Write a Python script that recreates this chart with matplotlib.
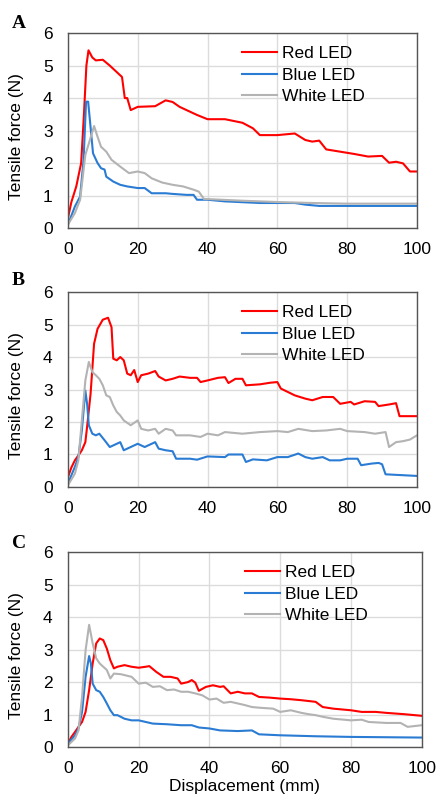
import matplotlib.pyplot as plt

# panel A
red_a_x = [0, 1, 2.4, 3.8, 4.6, 5.3, 5.9, 7, 8, 10, 12, 14, 15.5, 16.3, 17, 18, 19, 20, 25, 28, 30, 32, 35, 37, 40, 45,
           50, 53, 55, 60, 65, 68, 70, 72, 74, 78, 82, 86, 90, 92, 94, 96, 98, 100]
red_a_f = [0.3, 0.8, 1.28, 2.0, 3.5, 5.0, 5.47, 5.25, 5.16, 5.18, 5.0, 4.8, 4.65, 4.0, 4.0, 3.63, 3.68, 3.73, 3.75, 3.93,
           3.88, 3.73, 3.58, 3.48, 3.35, 3.35, 3.24, 3.07, 2.86, 2.86, 2.91, 2.71, 2.66, 2.69, 2.42, 2.35, 2.28, 2.2,
           2.22, 2.01, 2.04, 1.99, 1.74, 1.74]
blue_a_x = [0, 2, 3.5, 4.5, 5.2, 5.8, 6.5, 7.2, 8.5, 9.5, 10.5, 11, 13, 15, 17, 20, 22, 24, 28, 30, 34, 36, 37, 40, 45,
            55, 65, 68, 72, 100]
blue_a_f = [0.1, 0.66, 0.97, 2.1, 3.89, 3.89, 3.1, 2.3, 2.0, 1.84, 1.8, 1.58, 1.43, 1.33, 1.28, 1.23, 1.23, 1.07, 1.07,
            1.05, 1.02, 1.02, 0.87, 0.87, 0.82, 0.77, 0.77, 0.72, 0.68, 0.68]
white_a_x = [0, 2, 3.5, 5, 6, 7.5, 8.5, 9.5, 11, 12.5, 15, 17.5, 20, 22, 24, 27, 30, 33, 36, 37.5, 39, 40, 50, 60, 70,
             80, 100]
white_a_f = [0.1, 0.46, 0.87, 2.25, 2.6, 3.14, 2.81, 2.5, 2.35, 2.1, 1.89, 1.69, 1.74, 1.69, 1.53, 1.4, 1.33, 1.28,
             1.18, 1.12, 0.89, 0.89, 0.84, 0.8, 0.77, 0.75, 0.75]

# panel B
red_b_x = [0, 1, 2, 3, 4, 5, 5.5, 6.5, 7.5, 8.5, 10, 11.5, 12.5, 13, 14, 15, 16, 17, 18, 19, 20, 21, 23, 25, 26, 28,
           30, 32, 35, 37, 38, 40, 43, 45, 46, 48, 50, 51, 55, 58, 60, 61, 65, 68, 70, 73, 76, 78, 81, 82, 85, 88, 89,
           92, 94, 95, 100]
red_b_f = [0.3, 0.6, 0.82, 0.97, 1.13, 1.38, 1.85, 2.87, 4.41, 4.87, 5.15, 5.21, 4.92, 3.95, 3.9, 4.0, 3.9, 3.49, 3.44,
           3.6, 3.23, 3.44, 3.49, 3.57, 3.4, 3.28, 3.33, 3.4, 3.36, 3.36, 3.23, 3.28, 3.36, 3.38, 3.2, 3.33, 3.33,
           3.13, 3.16, 3.21, 3.23, 3.03, 2.82, 2.72, 2.67, 2.77, 2.77, 2.56, 2.62, 2.54, 2.64, 2.62, 2.49, 2.54, 2.58,
           2.18, 2.18]
blue_b_x = [0, 2, 3, 4, 5, 5.5, 6, 7, 8, 9, 10.5, 12, 13, 14, 15, 16, 18, 20, 22, 25, 26, 28, 30, 31, 35, 37, 40, 45,
            46, 50, 51, 53, 57, 60, 63, 66, 68, 70, 73, 75, 78, 80, 83, 84, 87, 89, 90, 91, 100]
blue_b_f = [0.1, 0.62, 0.92, 1.74, 2.97, 2.56, 1.9, 1.64, 1.59, 1.64, 1.44, 1.23, 1.28, 1.33, 1.38, 1.13, 1.23, 1.33,
            1.23, 1.38, 1.18, 1.13, 1.1, 0.87, 0.87, 0.84, 0.94, 0.92, 1.0, 1.0, 0.77, 0.85, 0.82, 0.92, 0.92, 1.03,
            0.92, 0.87, 0.92, 0.82, 0.82, 0.87, 0.87, 0.67, 0.72, 0.74, 0.7, 0.39, 0.34]
white_b_x = [0, 2, 3, 4, 5, 6, 7, 8, 9, 10, 11, 12, 13, 14, 15, 16, 18, 20, 21, 23, 25, 26, 28, 30, 31, 35, 38, 40, 43,
             45, 50, 55, 60, 63, 66, 70, 74, 78, 80, 85, 88, 91, 92, 94, 96, 98, 100]
white_b_f = [0.05, 0.41, 0.82, 2.05, 3.28, 3.85, 3.54, 3.44, 3.33, 3.13, 2.82, 2.77, 2.51, 2.31, 2.2, 2.05, 1.9, 2.05,
             1.79, 1.74, 1.79, 1.64, 1.79, 1.74, 1.59, 1.59, 1.54, 1.64, 1.59, 1.69, 1.64, 1.69, 1.72, 1.69, 1.79, 1.72,
             1.74, 1.79, 1.72, 1.69, 1.64, 1.69, 1.23, 1.38, 1.41, 1.46, 1.59]

# panel C
red_c_x = [0, 1, 2, 3, 4, 5, 6, 7, 8, 9, 10, 11, 12, 13, 14, 16, 18, 20, 22, 23, 25, 27, 29, 31, 32, 34, 35, 36, 37,
           39, 41, 43, 44, 46, 48, 50, 52, 54, 57, 60, 63, 66, 70, 72, 75, 80, 83, 87, 90, 95, 100]
red_c_f = [0.1, 0.31, 0.46, 0.62, 0.77, 1.08, 1.75, 2.57, 3.19, 3.34, 3.29, 3.03, 2.67, 2.42, 2.47, 2.52, 2.47, 2.44,
           2.47, 2.49, 2.31, 2.16, 2.16, 2.11, 1.95, 2.0, 2.06, 1.98, 1.73, 1.85, 1.9, 1.85, 1.87, 1.65, 1.7, 1.65,
           1.65, 1.54, 1.52, 1.49, 1.47, 1.44, 1.39, 1.23, 1.18, 1.13, 1.08, 1.08, 1.05, 1.01, 0.96]
blue_c_x = [0, 2, 3, 4, 5, 6, 6.5, 7, 8, 9, 10, 11, 12, 13, 14, 16, 18, 20, 22, 24, 28, 32, 35, 37, 40, 43, 48, 52, 54,
            60, 70, 80, 100]
blue_c_f = [0.1, 0.36, 0.57, 1.08, 2.16, 2.8, 2.57, 1.95, 1.75, 1.7, 1.54, 1.34, 1.13, 0.98, 0.98, 0.87, 0.82, 0.82,
            0.77, 0.72, 0.7, 0.67, 0.67, 0.6, 0.57, 0.51, 0.49, 0.51, 0.39, 0.36, 0.33, 0.31, 0.29]
white_c_x = [0, 2, 3, 4, 5, 6, 7, 8, 9, 10, 11, 12, 13, 15, 18, 20, 22, 24, 26, 28, 30, 32, 34, 36, 38, 40, 42, 44, 46,
             48, 50, 52, 54, 58, 60, 63, 66, 68, 70, 72, 75, 80, 83, 85, 90, 94, 96, 100]
white_c_f = [0.05, 0.26, 0.51, 1.54, 2.98, 3.76, 3.19, 2.73, 2.57, 2.47, 2.37, 2.11, 2.26, 2.24, 2.16, 1.95, 1.98, 1.85,
             1.87, 1.75, 1.77, 1.7, 1.7, 1.65, 1.59, 1.46, 1.49, 1.36, 1.39, 1.34, 1.29, 1.23, 1.21, 1.18, 1.08, 1.13,
             1.05, 1.01, 0.98, 0.93, 0.87, 0.82, 0.84, 0.77, 0.74, 0.74, 0.62, 0.67]

panels = [
    ("A", [0.155, 0.7157, 0.797, 0.243], 28, (red_a_x, red_a_f), (blue_a_x, blue_a_f), (white_a_x, white_a_f)),
    ("B", [0.155, 0.3928, 0.797, 0.243], 285, (red_b_x, red_b_f), (blue_b_x, blue_b_f), (white_b_x, white_b_f)),
    ("C", [0.155, 0.0686, 0.808, 0.243], 548, (red_c_x, red_c_f), (blue_c_x, blue_c_f), (white_c_x, white_c_f)),
]

plt.rcParams['font.family'] = ['Liberation Sans', 'DejaVu Sans']
fig = plt.figure(figsize=(4.38, 8.02), dpi=100)

for letter, rect, base_y, red, blue, white in panels:
    ax = fig.add_axes(rect)
    ax.plot(red[0], red[1], color="#ff0000", lw=1.5, label="Red LED")
    ax.plot(blue[0], blue[1], color="#2a7bd3", lw=1.5, label="Blue LED")
    ax.plot(white[0], white[1], color="#b3b3b3", lw=1.5, label="White LED")
    ax.set_xlim(0, 100)
    ax.set_ylim(0, 6)
    ax.set_xticks(range(0, 101, 20))
    ax.set_yticks(range(0, 7))
    ax.grid(True, color="#dcdcdc", lw=1)
    ax.set_axisbelow(True)
    for sp in ax.spines.values():
        sp.set_color("#555555")
        sp.set_linewidth(1.0)
    ax.tick_params(length=0, labelsize=12.5)
    ax.tick_params(axis="x", pad=10)
    ax.tick_params(axis="y", pad=11)
    ax.set_ylabel("Tensile force (N)", fontsize=12.5)
    ax.yaxis.set_label_coords(-0.125, 0.47)
    ax.legend(loc="upper left", bbox_to_anchor=(0.50, 0.935), frameon=False, fontsize=12.5,
              handlelength=2.0, handletextpad=0.3, labelspacing=0.38, borderpad=0, borderaxespad=0)
    fig.text(12 / 438, 1 - base_y / 802, letter, fontsize=14, fontweight="bold",
             family="Liberation Serif", va="baseline")
    if letter == "C":
        ax.set_xlabel("Displacement (mm)", fontsize=12.5, labelpad=2)

fig.savefig("out.png", dpi=100)
